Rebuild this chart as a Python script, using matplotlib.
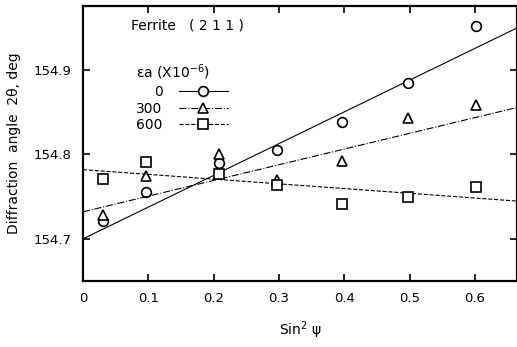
import matplotlib.pyplot as plt
import numpy as np
from matplotlib.lines import Line2D

# sin^2 psi positions
sin2psi = [0.03, 0.096, 0.208, 0.297, 0.397, 0.498, 0.602]

# diffraction angle 2theta for each applied strain
angle_0 = [154.721, 154.756, 154.790, 154.805, 154.838, 154.885, 154.952]
angle_300 = [154.728, 154.775, 154.800, 154.770, 154.792, 154.843, 154.859]
angle_600 = [154.771, 154.791, 154.777, 154.764, 154.741, 154.750, 154.761]

# fitted lines (intercept, slope) as drawn in the figure
fit_0 = (154.700, 0.376)
fit_300 = (154.732, 0.186)
fit_600 = (154.782, -0.056)

strain_labels = ['0', '300', '600']
markers = ['o', '^', 's']
styles = ['-', '-.', '--']

fig = plt.figure(figsize=(5.17, 3.47), dpi=100)
ax = fig.add_axes([0.1605, 0.19, 0.84, 0.793])

xx = np.array([0.0, 0.67])
series = [angle_0, angle_300, angle_600]
fits = [fit_0, fit_300, fit_600]
handles = []
for ys, (b, m), mk, ls in zip(series, fits, markers, styles):
    ax.plot(xx, b + m * xx, color='black', lw=0.8, ls=ls)
    ax.plot(sin2psi, ys, ls='none', marker=mk, ms=7, mfc='white', mec='black', mew=1.2)
    handles.append(Line2D([], [], color='black', lw=0.8, ls=ls, marker=mk, ms=7,
                          mfc='white', mec='black', mew=1.2))

ax.set_xlim(0, 0.665)
ax.set_ylim(154.650, 154.976)
ax.set_xticks([0, 0.1, 0.2, 0.3, 0.4, 0.5, 0.6])
ax.set_xticklabels(['0', '0.1', '0.2', '0.3', '0.4', '0.5', '0.6'])
ax.set_yticks([154.7, 154.8, 154.9])
ax.set_yticklabels(['154.7', '154.8', '154.9'])
ax.tick_params(direction='in', top=True, right=True, length=5, width=1.2, labelsize=9.5, pad=8)
for s in ax.spines.values():
    s.set_linewidth(1.6)

ax.set_xlabel('Sin$^2$ ψ', fontsize=10, labelpad=10)
ax.set_ylabel('Diffraction  angle  2θ, deg', fontsize=10, labelpad=9)

ax.text(0.11, 0.93, 'Ferrite   ( 2 1 1 )', transform=ax.transAxes, fontsize=10, va='center')

leg = ax.legend(handles, strain_labels, title='εa (X10$^{-6}$)', frameon=False,
                markerfirst=False, loc='upper left', bbox_to_anchor=(0.1, 0.83),
                fontsize=10, title_fontsize=10, handlelength=3.5, labelspacing=0.2,
                borderpad=0.2, handletextpad=1.2)
leg._legend_box.align = 'left'

fig.savefig('out.png', dpi=100)
